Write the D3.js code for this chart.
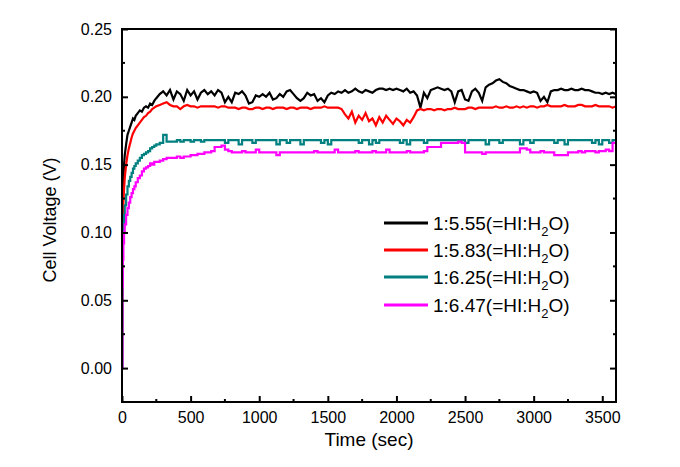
<!DOCTYPE html>
<html>
<head>
<meta charset="utf-8">
<script src="https://cdn.jsdelivr.net/npm/d3@7"></script>
<style>
  body { margin: 0; background: #fff; }
  svg { font-family: "Liberation Sans", Arial, sans-serif; }
</style>
</head>
<body>
<svg id="chart" width="680" height="467"></svg>
<script>
// sample times (sec): fine steps at start-up, then every 25 s
var startTimes = [0, 3, 6, 10, 15, 20, 30, 40, 50, 60, 70, 80, 90, 100, 115, 130, 145, 160, 175, 190, 205, 220, 235];
var gridTimes = [
  250, 275, 300, 325, 350, 375, 400, 425, 450, 475, 500, 525, 550, 575, 600, 625, 650, 675, 700, 725,
  750, 775, 800, 825, 850, 875, 900, 925, 950, 975, 1000, 1025, 1050, 1075, 1100, 1125, 1150, 1175, 1200, 1225,
  1250, 1275, 1300, 1325, 1350, 1375, 1400, 1425, 1450, 1475, 1500, 1525, 1550, 1575, 1600, 1625, 1650, 1675, 1700, 1725,
  1750, 1775, 1800, 1825, 1850, 1875, 1900, 1925, 1950, 1975, 2000, 2025, 2050, 2075, 2100, 2125, 2150, 2175, 2200, 2225,
  2250, 2275, 2300, 2325, 2350, 2375, 2400, 2425, 2450, 2475, 2500, 2525, 2550, 2575, 2600, 2625, 2650, 2675, 2700, 2725,
  2750, 2775, 2800, 2825, 2850, 2875, 2900, 2925, 2950, 2975, 3000, 3025, 3050, 3075, 3100, 3125, 3150, 3175, 3200, 3225,
  3250, 3275, 3300, 3325, 3350, 3375, 3400, 3425, 3450, 3475, 3500, 3525, 3550, 3575, 3600
];
var times = startTimes.concat(gridTimes);

// cell voltage in mV, one value per time above
var v555 = [
  0, 100, 125, 140, 150, 157, 165, 172, 175, 178, 181, 184, 183, 186, 188, 190, 189, 192, 193, 192, 195, 194, 197,
  199, 202, 204, 201, 205, 198, 204, 202, 197, 205, 201, 204, 198, 203, 205, 202, 204, 201, 205, 203,
  196, 200, 196, 203, 202, 204, 201, 195, 196, 201, 200, 202, 200, 203, 198, 199, 202, 200, 204, 205,
  202, 199, 197, 199, 203, 201, 202, 197, 199, 196, 201, 203, 202, 204, 203, 205, 203, 204, 206, 204,
  203, 205, 204, 203, 205, 206, 206, 205, 206, 205, 206, 205, 204, 206, 203, 204, 201, 192, 203, 199,
  205, 206, 207, 206, 205, 206, 204, 196, 204, 205, 198, 197, 204, 206, 203, 197, 207, 209, 210, 212,
  213, 211, 210, 208, 207, 206, 205, 205, 204, 203, 204, 203, 197, 200, 196, 204, 205, 205, 206, 205,
  205, 206, 205, 205, 206, 205, 205, 204, 203, 203, 202, 203, 202, 203, 202
];
var v583 = [
  0, 90, 110, 122, 132, 140, 150, 157, 162, 166, 170, 173, 175, 177, 179, 181, 183, 185, 186, 188, 189, 191, 192,
  193, 194, 195, 196, 194, 193, 193, 191, 193, 194, 193, 193, 192, 193, 193, 193, 193, 193, 192, 193,
  193, 192, 192, 192, 191, 192, 192, 191, 191, 192, 192, 191, 192, 192, 191, 192, 192, 192, 191, 192,
  192, 191, 192, 192, 192, 191, 192, 192, 192, 193, 192, 192, 192, 192, 191, 187, 184, 189, 181, 186,
  183, 188, 182, 184, 179, 185, 181, 186, 183, 180, 184, 182, 179, 183, 181, 185, 190, 191, 190, 191,
  191, 190, 191, 191, 190, 191, 191, 192, 191, 191, 191, 192, 192, 191, 192, 192, 192, 192, 192, 193,
  192, 192, 193, 192, 192, 193, 192, 193, 192, 193, 193, 192, 193, 193, 194, 193, 193, 193, 193, 194,
  193, 193, 193, 194, 194, 193, 193, 193, 194, 193, 193, 193, 193, 192, 193
];
var v625 = [
  0, 80, 95, 105, 113, 120, 128, 134, 138, 141, 144, 147, 149, 151, 153, 155, 157, 158, 159, 160, 162, 163, 164,
  165, 166, 172, 167, 167, 167, 168, 167, 168, 168, 167, 168, 168, 167, 168, 168, 168, 168, 168, 168,
  166, 168, 168, 168, 165, 168, 168, 168, 166, 168, 168, 168, 168, 168, 168, 165, 168, 168, 166, 168,
  168, 168, 165, 168, 168, 168, 168, 168, 166, 168, 165, 168, 168, 168, 168, 168, 168, 168, 168, 166,
  168, 168, 165, 168, 166, 168, 168, 168, 168, 168, 168, 166, 168, 165, 168, 168, 168, 168, 166, 168,
  168, 168, 168, 168, 168, 168, 168, 168, 168, 168, 166, 168, 168, 168, 168, 168, 165, 168, 168, 168,
  166, 168, 168, 168, 168, 168, 165, 168, 168, 166, 168, 168, 168, 168, 168, 168, 166, 168, 168, 165,
  168, 168, 168, 168, 168, 168, 168, 166, 168, 165, 168, 168, 166, 168, 168
];
var v647 = [
  0, 60, 80, 92, 100, 106, 113, 118, 122, 126, 129, 132, 134, 137, 140, 142, 145, 147, 148, 149, 151, 150, 152,
  152, 153, 154, 155, 155, 155, 156, 155, 156, 156, 157, 157, 158, 158, 159, 159, 160, 163, 163, 164,
  161, 160, 159, 159, 159, 160, 159, 159, 159, 161, 159, 159, 159, 159, 159, 157, 159, 159, 159, 159,
  159, 159, 159, 159, 159, 159, 160, 159, 159, 159, 159, 159, 161, 159, 159, 159, 159, 159, 160, 159,
  159, 159, 159, 160, 159, 159, 159, 161, 159, 159, 159, 159, 159, 160, 159, 159, 159, 159, 160, 163,
  163, 163, 163, 166, 166, 166, 166, 166, 167, 166, 159, 159, 159, 159, 159, 158, 159, 159, 159, 159,
  159, 159, 159, 159, 159, 159, 162, 162, 161, 159, 159, 159, 160, 159, 159, 159, 157, 157, 157, 157,
  159, 159, 159, 160, 159, 160, 160, 160, 159, 160, 160, 161, 160, 166, 160
];

var seriesNames = ["1:5.55(=HI:H", "1:5.83(=HI:H", "1:6.25(=HI:H", "1:6.47(=HI:H"];
var seriesValues = [v555, v583, v625, v647];
var seriesColors = ["#000000", "#ff0000", "#008080", "#ff00ff"];
// noisy traces drawn point to point, quantized ones as steps
var seriesCurves = [d3.curveLinear, d3.curveLinear, d3.curveStepAfter, d3.curveStepAfter];

var xTicks = [0, 500, 1000, 1500, 2000, 2500, 3000, 3500];
var xMinor = [250, 750, 1250, 1750, 2250, 2750, 3250];
var yTicks = [0.00, 0.05, 0.10, 0.15, 0.20, 0.25];
var yMinor = [0.025, 0.075, 0.125, 0.175, 0.225];

var svg = d3.select("#chart");
var pLeft = 122, pRight = 616, pTop = 29, pBottom = 402;

var x = d3.scaleLinear().domain([0, 3600]).range([pLeft, pRight]);
var y = d3.scaleLinear().domain([-0.025, 0.25]).range([pBottom, pTop]);

svg.append("clipPath").attr("id", "plot")
  .append("rect").attr("x", pLeft).attr("y", pTop)
  .attr("width", pRight - pLeft).attr("height", pBottom - pTop);

// data lines
seriesValues.forEach(function(vals, k){
  var line = d3.line()
    .x(function(d, i){ return x(times[i]); })
    .y(function(d){ return y(d / 1000); })
    .curve(seriesCurves[k]);
  svg.append("path")
    .datum(vals)
    .attr("clip-path", "url(#plot)")
    .attr("fill", "none")
    .attr("stroke", seriesColors[k])
    .attr("stroke-width", 2.2)
    .attr("d", line);
});

// axes, ticks pointing inward
var bottomAxis = d3.axisBottom(x).tickValues(xTicks).tickSizeInner(-6).tickSizeOuter(0).tickPadding(10)
  .tickFormat(d3.format("d"));
var gx = svg.append("g").attr("transform", "translate(0," + pBottom + ")").call(bottomAxis);
gx.select(".domain").remove();
gx.selectAll("text").attr("font-size", 16).attr("fill", "#000").attr("font-family", "Liberation Sans, Arial, sans-serif");
gx.selectAll("line").attr("stroke-width", 2);
gx.selectAll(".minor").data(xMinor).enter().append("line")
  .attr("x1", function(d){ return x(d); }).attr("x2", function(d){ return x(d); })
  .attr("y1", 0).attr("y2", -3).attr("stroke", "#000").attr("stroke-width", 2);

var leftAxis = d3.axisLeft(y).tickValues(yTicks).tickSizeInner(-6).tickSizeOuter(0).tickPadding(10)
  .tickFormat(d3.format(".2f"));
var gy = svg.append("g").attr("transform", "translate(" + pLeft + ",0)").call(leftAxis);
gy.select(".domain").remove();
gy.selectAll("text").attr("font-size", 16).attr("fill", "#000").attr("font-family", "Liberation Sans, Arial, sans-serif");
gy.selectAll("line").attr("stroke-width", 2);
gy.selectAll(".minor").data(yMinor).enter().append("line")
  .attr("y1", function(d){ return y(d); }).attr("y2", function(d){ return y(d); })
  .attr("x1", 0).attr("x2", 3).attr("stroke", "#000").attr("stroke-width", 2);

var rightAxis = d3.axisRight(y).tickValues(yTicks).tickSizeInner(-6).tickSizeOuter(0).tickFormat("");
var gr = svg.append("g").attr("transform", "translate(" + pRight + ",0)").call(rightAxis);
gr.select(".domain").remove();
gr.selectAll("line").attr("stroke-width", 2);
gr.selectAll(".minor").data(yMinor).enter().append("line")
  .attr("y1", function(d){ return y(d); }).attr("y2", function(d){ return y(d); })
  .attr("x1", 0).attr("x2", -3).attr("stroke", "#000").attr("stroke-width", 2);

// frame
svg.append("rect")
  .attr("x", pLeft).attr("y", pTop)
  .attr("width", pRight - pLeft).attr("height", pBottom - pTop)
  .attr("fill", "none").attr("stroke", "#000").attr("stroke-width", 2);

// axis titles
svg.append("text")
  .attr("x", (pLeft + pRight) / 2).attr("y", 446)
  .attr("text-anchor", "middle").attr("font-size", 19)
  .text("Time (sec)");

svg.append("text")
  .attr("transform", "translate(56,220) rotate(-90)")
  .attr("text-anchor", "middle").attr("font-size", 18)
  .text("Cell Voltage (V)");

// legend
var legendY = [223, 250, 277, 305];
var leg = svg.selectAll(".leg").data(seriesNames).enter().append("g")
  .attr("transform", function(d, i){ return "translate(0," + legendY[i] + ")"; });
leg.append("line")
  .attr("x1", 384).attr("x2", 428).attr("y1", 0).attr("y2", 0)
  .attr("stroke", function(d, i){ return seriesColors[i]; })
  .attr("stroke-width", 3);
var lt = leg.append("text").attr("x", 433).attr("y", 7).attr("font-size", 19);
lt.append("tspan").text(function(d){ return d; });
lt.append("tspan").attr("font-size", 13).attr("dy", 6).text("2");
lt.append("tspan").attr("dy", -6).text("O)");
</script>
</body>
</html>
